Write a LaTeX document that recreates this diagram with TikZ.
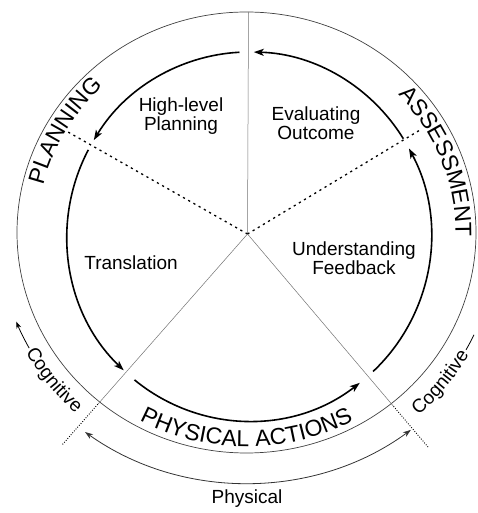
\documentclass[tikz,border=0pt]{standalone}
\usepackage{fontspec}
\setmainfont{Liberation Sans}
\usetikzlibrary{arrows.meta,calc,decorations.text}
\newcommand\bandfont{\fontsize{23}{23}\selectfont}
\newcommand\cellfont{\fontsize{19}{19}\selectfont}
\newcommand\sidefont{\fontsize{19}{19}\selectfont}
\begin{document}
\begin{tikzpicture}[x=1pt,y=1pt,
  rim/.style={draw=black!75, line width=0.7pt},
  spoke/.style={draw=black!55, line width=0.5pt},
  boundary/.style={draw=black, line width=1.3pt, dash pattern=on 2.2pt off 3.8pt},
  extension/.style={draw=black, line width=0.9pt, dash pattern=on 0.9pt off 1.6pt},
  flow/.style={draw=black, line width=1.6pt, -{Stealth[length=10pt,width=7pt,inset=2.5pt]}},
  flowplain/.style={draw=black, line width=1.6pt},
  span/.style={draw=black!80, line width=0.8pt,
    {Stealth[length=8pt,width=5.5pt]}-{Stealth[length=8pt,width=5.5pt]}},
  sidearrow/.style={draw=black, line width=0.8pt, -{Stealth[length=7pt,width=5pt]}},
  sideline/.style={draw=black, line width=0.8pt},
  cell/.style={font=\cellfont, align=center, inner sep=0pt},
  bandtext/.style={decorate, decoration={text along path, text align=center,
    text={|\bandfont|#1}}},
  sidetext/.style={decorate, decoration={text along path, text align=center,
    text={|\sidefont|#1}}},
]
\useasboundingbox (0,0) rectangle (478,513);

% centres of the rim, of the inner cycle and of the hub of the spokes
\coordinate (O) at (246.5,280.5);
\coordinate (I) at (249,276.5);
\coordinate (P) at (247.5,279);

% outer rim
\draw[rim] (O) ellipse [x radius=229.5pt, y radius=220.5pt];

% spokes
\coordinate (top) at (248.5,501);
\coordinate (ul) at (68,381);
\coordinate (ur) at (420,383);
\coordinate (ll) at (62,68);
\coordinate (lr) at (428,66);
\coordinate (llrim) at ($(P)!0.807!(ll)$);
\coordinate (lrrim) at ($(P)!0.809!(lr)$);
\draw[spoke] (P) -- (top);
\draw[boundary] (P) -- (ul);
\draw[boundary] (P) -- (ur);
\draw[spoke] (P) -- (llrim);
\draw[spoke] (P) -- (lrrim);
\draw[extension] (llrim) -- (ll);
\draw[extension] (lrrim) -- (lr);

% inner cycle of stages
\draw[flow] ($(I)+(93:182pt and 184.5pt)$)
  arc[start angle=93, end angle=148.5, x radius=182pt, y radius=184.5pt];
\draw[flow] ($(I)+(152:182pt and 184.5pt)$)
  arc[start angle=152, end angle=226.5, x radius=182pt, y radius=184.5pt];
\draw[flow] ($(I)+(231:182pt and 184.5pt)$)
  arc[start angle=231, end angle=307.5, x radius=182pt, y radius=184.5pt];
\draw[flow] ($(I)+(-47:182pt and 184.5pt)$)
  arc[start angle=-47, end angle=28.5, x radius=182pt, y radius=184.5pt];
\draw[flow] ($(I)+(32:182pt and 184.5pt)$)
  arc[start angle=32, end angle=88.5, x radius=182pt, y radius=184.5pt];

% stage labels
\node[cell] (hlp) at (181,396.5) {High-level\\Planning};
\node[cell] (eval) at (316,389.5) {Evaluating\\Outcome};
\node[cell] (trans) at (131,250) {Translation};
\node[cell] (feed) at (354,255) {Understanding\\Feedback};

% band titles along the rim
\path[bandtext=PLANNING] ($(O)+(185:209pt and 200pt)$)
  arc[start angle=185, end angle=115, x radius=209pt, y radius=200pt];
\path[bandtext=ASSESSMENT] ($(O)+(56:209pt and 200pt)$)
  arc[start angle=56, end angle=-14, x radius=209pt, y radius=200pt];
\path[bandtext=PHYSICAL ACTIONS] ($(O)+(225:224pt and 214pt)$)
  arc[start angle=225, end angle=315, x radius=224pt, y radius=214pt];

% cognitive / physical extents outside the rim
\path[sidetext=Cognitive] ($(O)+(198:253pt and 245pt)$)
  arc[start angle=198, end angle=238.6, x radius=253pt, y radius=245pt];
\draw[sidearrow] ($(O)+(208.8:248pt and 240pt)$)
  arc[start angle=208.8, end angle=201.8, x radius=248pt, y radius=240pt];
\path[sidetext=Cognitive] ($(O)+(-58:256pt and 247pt)$)
  arc[start angle=-58, end angle=-19.2, x radius=256pt, y radius=247pt];
\draw[sideline] ($(O)+(-29:251pt and 242pt)$)
  arc[start angle=-29, end angle=-25, x radius=251pt, y radius=242pt];

\draw[span] ($(O)+(232.8:267pt and 250.5pt)$)
  arc[start angle=232.8, end angle=308, x radius=267pt, y radius=250.5pt];
\node[cell] (phys) at (247,14.5) {Physical};
\end{tikzpicture}
\end{document}
